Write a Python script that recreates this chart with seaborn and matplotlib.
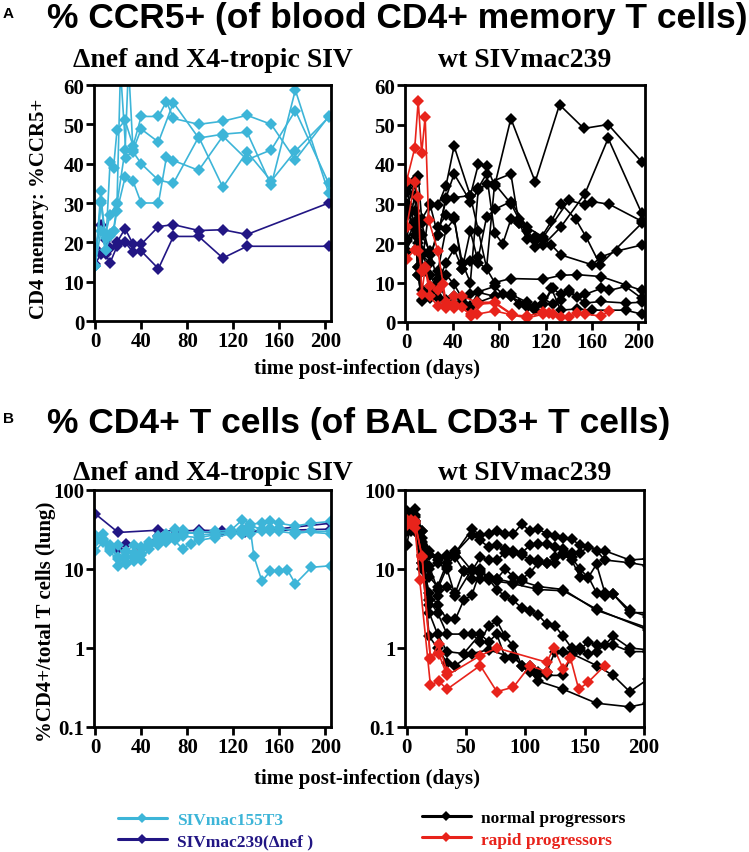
import matplotlib
matplotlib.use("Agg")
import matplotlib.pyplot as plt
import seaborn as sns
import pandas as pd
from matplotlib.lines import Line2D

# ---- panel A left: %CCR5+ (blood CD4 memory), delta-nef and X4-tropic SIV ----
a_cyan_days = [
    [0, 5, 9, 13, 16, 19, 26, 33, 40, 55, 62, 68, 90, 111, 132, 153, 174, 203],
    [0, 5, 9, 13, 19, 22, 27, 33, 40, 55, 68, 90, 111, 132, 153, 174, 203],
    [0, 5, 9, 13, 16, 19, 26, 33, 40, 55, 62, 68, 90, 111, 132, 153, 174, 203],
    [0, 5, 9, 13, 16, 19, 26, 29, 33, 40, 55, 68, 90, 111, 132, 153, 174, 203],
]
a_cyan_vals = [
    [14, 33, 18, 40.5, 39, 48.5, 51, 44.5, 52, 52, 55.8, 51.5, 50, 50.8, 52.3, 50, 41, 52],
    [14, 30.5, 22, 27, 30, 64, 41.5, 43.5, 48.8, 45.5, 55.5, 46.5, 47.5, 48, 34.5, 58.7, 32.5],
    [14, 30, 21, 22, 23, 28, 36.5, 35.5, 30, 30, 41.7, 40.8, 38.3, 47, 41, 43.5, 53.5, 35],
    [14, 23, 18, 21.5, 23, 29.8, 43.5, 65, 43, 40, 35.8, 35, 46.8, 34, 43, 35.6, 43.2, 51.8],
]
a_navy_days = [
    [0, 5, 9, 13, 19, 26, 33, 40, 55, 68, 90, 111, 132, 203],
    [0, 5, 9, 13, 19, 26, 33, 40, 55, 68, 90, 111, 132, 203],
]
a_navy_vals = [
    [18.5, 24.5, 20.5, 18.5, 20, 23.5, 19.5, 19.5, 24, 24.5, 23, 23.2, 22, 30],
    [14.5, 17, 17, 14.8, 19, 20, 17.5, 17.8, 13.3, 21.5, 21.5, 16, 19, 19],
]

# ---- panel A right: wt SIVmac239 ----
a_red_days = [
    [0, 7, 10, 13, 16, 19, 27, 34, 41, 48, 61, 76, 91],
    [0, 7, 10, 13, 16, 20, 27, 31, 34, 41, 48, 56, 61, 76, 91, 104, 118, 123, 133],
    [0, 7, 10, 13, 16, 20, 27, 34, 41, 56, 62, 76, 91, 104, 118, 126, 140, 147, 154, 168, 175],
]
a_red_vals = [
    [35.8, 44, 56, 42.7, 52, 25.8, 18, 5, 6.5, 6.5, 5, 5, 2],
    [24, 35.5, 31.7, 7.2, 13.5, 9.2, 8, 9.5, 3.5, 3.5, 3.8, 1.5, 2, 2.8, 1.8, 1.5, 2.5, 2.4, 1.3],
    [16, 18.3, 18, 13, 14, 6.5, 4, 4, 4.5, 2, 4.5, 4.8, 1.8, 1, 2, 2, 1.3, 2.2, 2, 1.5, 2.8],
]
a_black_days = [
    [0, 7, 10, 13, 20, 27, 34, 41, 55, 62, 69, 76, 90, 111, 132, 153, 174, 203],
    [0, 7, 10, 13, 20, 27, 34, 41, 55, 62, 69, 90, 97, 104, 111, 125, 133, 146, 155, 167, 203],
    [0, 7, 10, 13, 20, 27, 34, 41, 48, 55, 62, 69, 76, 83, 90, 97, 104, 111, 118, 133, 154, 174, 203],
    [0, 7, 10, 13, 20, 27, 34, 41, 48, 55, 62, 69, 76, 90, 104, 118, 140, 154, 160, 175, 203],
    [0, 7, 10, 13, 20, 27, 34, 41, 48, 55, 62, 69, 76, 90, 118, 133, 147, 168, 203],
    [0, 7, 10, 13, 20, 27, 34, 41, 48, 55, 62, 76, 90, 104, 118, 126, 133, 140, 147, 154, 168, 175, 189, 203],
    [0, 7, 10, 13, 20, 27, 34, 41, 48, 55, 62, 76, 90, 104, 111, 118, 126, 133, 140, 154, 168, 189, 203],
    [0, 7, 10, 13, 20, 27, 34, 41, 48, 55, 76, 83, 90, 97, 104, 111, 118, 125, 133, 147, 160, 189, 203],
    [0, 7, 10, 13, 20, 27, 34, 41, 55, 62, 69, 76, 90, 97, 111, 118, 125, 133, 160, 168, 182, 203],
]
a_black_vals = [
    [29, 35, 37, 26, 29.5, 29.5, 34.5, 44.5, 32, 40, 39.5, 34.5, 51.5, 35.5, 55, 49, 50, 40.5],
    [27, 28, 23, 25, 17, 22, 31.5, 37.5, 30.5, 33.5, 35, 37.5, 25, 23, 19, 25.5, 30, 26, 21.5, 14.5, 25],
    [34, 24, 12, 5.5, 6, 13, 23.5, 26, 15, 10, 34, 37.5, 22.5, 19.8, 26, 25, 21, 21.5, 19.5, 24, 32.5, 46.5, 27.5],
    [20.5, 25, 19, 17, 15, 24, 27, 26.5, 13.5, 15.5, 16.5, 26.5, 28.5, 30.5, 24, 21.5, 30.8, 29.7, 30.5, 29.8, 25.5],
    [18, 23.5, 14, 22, 18, 10, 15, 18.5, 13.5, 23, 15, 13.5, 10, 11, 10.8, 11.8, 12, 11.5, 8],
    [27.5, 25, 12, 5.3, 9, 6, 12, 9.5, 6, 4, 7.5, 6.5, 6.5, 4, 4.5, 8.5, 7, 7.5, 6.3, 7, 8.5, 8, 9, 6],
    [30, 22, 14, 8, 7.5, 11, 5.5, 6.5, 5, 3.5, 5, 6.5, 7, 5, 4, 6, 4.5, 5.5, 8, 4.8, 5.2, 4.8, 5],
    [33, 36, 26, 18, 12, 8, 5, 4.5, 5, 7, 9, 7, 6.5, 4.5, 3.8, 3, 4.5, 8.5, 3, 3.3, 3, 3, 2],
    [21, 32, 20, 14, 30, 22, 31, 31.5, 32, 23, 13.7, 35, 30, 26, 20.5, 21, 19.5, 17, 14.5, 16.5, 18, 19.5],
]

# ---- panel B left: %CD4+ of BAL CD3+ T cells, delta-nef and X4-tropic SIV ----
b_cyan_days = [
    [0, 7, 13, 20, 27, 34, 40, 47, 55, 62, 69, 76, 90, 104, 118, 128, 135, 145, 152, 160, 174, 188, 205],
    [0, 7, 13, 20, 27, 34, 40, 47, 55, 62, 69, 76, 90, 104, 118, 128, 135, 138, 145, 152, 160, 167, 174, 188, 205],
    [0, 7, 13, 20, 27, 34, 40, 47, 55, 62, 69, 76, 83, 90, 104, 118, 128, 135, 145, 152, 160, 174, 188, 205],
    [0, 7, 13, 20, 27, 34, 40, 47, 55, 62, 69, 76, 90, 104, 118, 128, 135, 145, 152, 160, 174, 205],
]
b_cyan_vals = [
    [27, 28, 20, 14, 11.5, 12.5, 13, 18, 22, 25, 27, 28, 29, 30, 31, 42, 37, 38, 40, 38, 35, 38, 40],
    [17, 22, 18, 11, 14, 16, 15, 22, 25, 28, 32, 31, 27, 28, 30, 32, 31, 14.5, 7, 9.3, 9.5, 9.8, 6.5, 10.5, 11],
    [22, 24, 19, 13.5, 17, 20, 16, 20, 20, 22, 23, 18, 21, 23, 25, 28, 30, 35, 32, 30, 30, 28, 30, 30],
    [25, 23, 17, 20, 12, 14, 19, 21, 26, 23, 24, 26, 25, 27, 29, 28, 28, 30, 33, 33, 30, 28],
]
b_navy_days = [
    [0, 20, 55, 70, 90, 130, 205],
    [0, 20, 27, 40, 55, 70, 90, 110, 130, 205],
]
b_navy_vals = [
    [50, 29, 31, 30, 31, 30, 32],
    [24, 18, 21, 18.5, 26, 28, 29, 30, 29, 38],
]

# ---- panel B right: wt SIVmac239 ----
b_red_days = [
    [0, 4, 7, 13, 20, 27, 34, 62, 76, 118, 124, 132, 138, 145, 153, 167],
    [0, 4, 7, 11, 20, 27, 34, 62, 76, 90, 104, 118],
    [0, 4, 7, 13, 20, 27, 34],
]
b_red_vals = [
    [40, 42, 38, 14.5, 0.75, 0.85, 0.45, 0.8, 1.0, 0.66, 1.0, 0.54, 0.75, 0.3, 0.37, 0.6],
    [36, 38, 33, 7.3, 0.34, 0.38, 0.3, 0.6, 0.28, 0.32, 0.6, 0.5],
    [42, 37, 40, 14, 0.72, 1.13, 0.5],
]
b_black_days = [
    [0, 4, 7, 13, 19, 26, 34, 41, 55, 62, 69, 76, 83, 90, 97, 104, 111, 118, 125, 132, 139, 146, 167, 188, 203],
    [0, 4, 7, 13, 19, 26, 34, 41, 55, 62, 69, 76, 83, 90, 97, 104, 111, 118, 125, 132, 139, 146, 153, 160, 167, 188, 203],
    [0, 4, 7, 13, 19, 26, 34, 41, 48, 55, 62, 69, 76, 83, 90, 97, 104, 111, 118, 125, 132, 139, 146, 153, 160, 167, 174, 188, 203],
    [0, 4, 7, 13, 19, 26, 34, 41, 48, 55, 62, 69, 76, 90, 97, 104, 111, 118, 125, 132, 139, 146, 153, 160, 167, 174, 188, 203],
    [0, 4, 7, 13, 19, 26, 34, 41, 48, 55, 62, 69, 76, 90, 111, 132, 160, 203],
    [0, 4, 7, 13, 19, 26, 34, 41, 55, 62, 69, 76, 83, 90, 97, 104, 111, 118, 125, 132, 139, 146, 153, 160, 167, 174, 188, 203],
    [0, 4, 7, 13, 19, 26, 34, 48, 55, 62, 69, 76, 83, 90, 97, 104, 111, 118, 125, 132, 139, 146, 153, 160, 174, 188, 203],
    [0, 4, 7, 13, 19, 26, 34, 48, 62, 69, 76, 83, 90, 97, 104, 111, 118, 132, 139, 160, 174, 188, 203],
    [0, 4, 7, 13, 19, 26, 34, 41, 55, 69, 90, 104, 111, 132, 160, 188, 203],
    [0, 7, 13, 19, 26, 34, 41, 55, 62, 69, 76, 83, 90, 97, 111, 132, 160, 203],
]
b_black_vals = [
    [55, 50, 58, 30, 17, 14, 15, 16, 32, 27, 28, 30, 28, 28, 37, 30, 32, 28, 26, 25, 24, 20, 17, 13, 13.5],
    [50, 45, 40, 20, 11, 5.5, 10.5, 16, 27, 23, 19, 20, 18, 17, 16, 20, 21, 21, 19, 18, 16, 16, 19, 17, 13, 12, 11],
    [45, 35, 45, 25, 8, 6, 12, 14, 9.5, 9.5, 14, 13, 13, 16, 16, 15, 13, 13, 12, 14, 15, 13, 8, 8, 5, 4.5, 4.8, 3, 2.5],
    [35, 30, 35, 12, 5, 3.5, 2.3, 2.3, 4, 4.7, 9.5, 7.5, 7.5, 6.7, 7.5, 9, 12, 12, 12, 16, 14, 10, 7.8, 11.5, 5, 4.8, 2.8, 2.8],
    [30, 35, 30, 10, 3.5, 4.5, 6, 5, 9.5, 7.5, 7.5, 7.3, 7, 6.5, 5.5, 5.3, 3.1, 1.7],
    [20, 40, 35, 15, 10, 12, 10, 4.5, 10, 10, 7.5, 5.5, 4.5, 4, 3.2, 2.9, 2.6, 2, 1.9, 1.4, 1, 1, 0.85, 0.9, 1.1, 1.4, 1, 0.95],
    [50, 45, 40, 22, 4, 2.8, 1.5, 1.5, 1.5, 1.2, 1.9, 2.2, 1.4, 1.05, 0.6, 0.55, 0.5, 0.5, 0.9, 0.9, 0.85, 0.95, 1.2, 1.1, 1.1, 0.9, 0.9],
    [40, 35, 38, 18, 2.8, 1.5, 0.9, 0.85, 1.5, 1.2, 1.5, 0.75, 0.8, 0.6, 0.6, 0.45, 0.45, 0.45, 0.85, 0.6, 0.45, 0.28, 0.4],
    [32, 33, 30, 12, 1.4, 1, 0.65, 0.6, 0.85, 0.95, 0.75, 0.5, 0.38, 0.3, 0.2, 0.18, 0.2],
    [45, 48, 30, 15, 13, 14, 17, 9.5, 9, 8, 7.5, 10, 8, 7, 6, 5.5, 3, 1.8],
]

CYAN = "#3db5d8"
NAVY = "#221684"
RED = "#e8231b"
BLACK = "#000000"

sns.set_theme(style="ticks")
plt.rcParams["font.family"] = ["Liberation Serif", "DejaVu Serif"]
plt.rcParams["font.weight"] = "bold"
for k in ["text.color", "axes.labelcolor", "xtick.color", "ytick.color", "axes.edgecolor"]:
    plt.rcParams[k] = "black"

W, H = 749, 853
fig = plt.figure(figsize=(W / 100, H / 100), dpi=100)


def px_axes(l, t, r, b):
    return fig.add_axes([l / W, 1 - b / H, (r - l) / W, (b - t) / H])


def to_long(days_list, vals_list, group):
    rows = []
    for i, (d, v) in enumerate(zip(days_list, vals_list)):
        rows.append(pd.DataFrame({"day": d, "value": v, "group": group, "animal": f"{group}{i}"}))
    return rows


def draw(ax, frames, palette, order):
    df = pd.concat(frames, ignore_index=True)
    sns.lineplot(data=df, x="day", y="value", hue="group", hue_order=order,
                 units="animal", estimator=None, palette=palette, marker="D",
                 markersize=6, markeredgewidth=0, linewidth=1.2,
                 legend=False, ax=ax)


def style(ax, xlim, xticks, ylim, yticks, ylabels=None, log=False):
    if log:
        ax.set_yscale("log")
    ax.set_xlim(*xlim)
    ax.set_ylim(*ylim)
    ax.set_xticks(xticks)
    ax.set_yticks(yticks)
    if ylabels is not None:
        ax.set_yticklabels(ylabels)
    ax.minorticks_off()
    ax.set_xlabel("")
    ax.set_ylabel("")
    for s in ax.spines.values():
        s.set_visible(True)
        s.set_linewidth(2)
        s.set_color("black")
    ax.tick_params(axis="both", which="major", length=6, width=2, pad=1,
                   labelsize=15, colors="black", direction="out")
    for lab in ax.get_xticklabels() + ax.get_yticklabels():
        lab.set_fontweight("bold")


axA1 = px_axes(94, 86, 331, 322)
axA2 = px_axes(405, 86, 645, 323)
axB1 = px_axes(94, 491, 331, 728)
axB2 = px_axes(405, 491, 644, 728)

draw(axA1, to_long(a_navy_days, a_navy_vals, "navy") + to_long(a_cyan_days, a_cyan_vals, "cyan"),
     {"cyan": CYAN, "navy": NAVY}, ["navy", "cyan"])
draw(axA2, to_long(a_black_days, a_black_vals, "normal") + to_long(a_red_days, a_red_vals, "rapid"),
     {"normal": BLACK, "rapid": RED}, ["normal", "rapid"])
draw(axB1, to_long(b_navy_days, b_navy_vals, "navy") + to_long(b_cyan_days, b_cyan_vals, "cyan"),
     {"cyan": CYAN, "navy": NAVY}, ["navy", "cyan"])
draw(axB2, to_long(b_black_days, b_black_vals, "normal") + to_long(b_red_days, b_red_vals, "rapid"),
     {"normal": BLACK, "rapid": RED}, ["normal", "rapid"])

ticks40 = [0, 40, 80, 120, 160, 200]
style(axA1, (-1, 205), ticks40, (0, 60), range(0, 61, 10))
style(axA2, (-1.4, 205.8), ticks40, (0, 60), range(0, 61, 10))
logt = [0.1, 1, 10, 100]
logl = ["0.1", "1", "10", "100"]
style(axB1, (-1, 205), ticks40, (0.1, 100), logt, logl, log=True)
style(axB2, (-1.4, 200), [0, 50, 100, 150, 200], (0.1, 100), logt, logl, log=True)

axA1.set_ylabel("CD4 memory: %CCR5+", fontsize=15, fontweight="bold")
axA1.yaxis.set_label_coords(-0.19, 0.48)
axB1.set_ylabel("%CD4+/total T cells (lung)", fontsize=15, fontweight="bold")
axB1.yaxis.set_label_coords(-0.16, 0.45)


def ftext(x, y, s, **kw):
    fig.text(x / W, 1 - y / H, s, **kw)


sans = ["Liberation Sans", "DejaVu Sans"]
ftext(3, 18, "A", family=sans, fontsize=11, fontweight="bold", va="baseline")
ftext(47, 28, "% CCR5+ (of blood CD4+ memory T cells)", family=sans, fontsize=25.5,
      fontweight="bold", va="baseline")
ftext(3, 423, "B", family=sans, fontsize=11, fontweight="bold", va="baseline")
ftext(47, 433, "% CD4+ T cells (of BAL CD3+ T cells)", family=sans, fontsize=25.5,
      fontweight="bold", va="baseline")

for y, pair in [(67, (axA1, axA2)), (480, (axB1, axB2))]:
    for ax, s in zip(pair, ["\u0394nef and X4-tropic SIV", "wt SIVmac239"]):
        pos = ax.get_position()
        ftext((pos.x0 + pos.x1) / 2 * W, y, s, fontsize=20, fontweight="bold",
              ha="center", va="baseline")

ftext(367, 374, "time post-infection (days)", fontsize=15, fontweight="bold",
      ha="center", va="baseline")
ftext(367, 784, "time post-infection (days)", fontsize=15, fontweight="bold",
      ha="center", va="baseline")


def handle(c):
    return Line2D([], [], color=c, lw=2.2, marker="D", markersize=5, markeredgewidth=0)


leg_kw = dict(loc="upper left", frameon=False, handlelength=2.8,
              handletextpad=0.6, labelspacing=0.3, borderpad=0, borderaxespad=0,
              labelcolor="linecolor", prop={"weight": "bold", "size": 12.5})
fig.legend([handle(CYAN), handle(NAVY)], ["SIVmac155T3", "SIVmac239(\u0394nef )"],
           bbox_to_anchor=(118 / W, 1 - 813 / H), **leg_kw)
fig.legend([handle(BLACK), handle(RED)], ["normal progressors", "rapid progressors"],
           bbox_to_anchor=(422 / W, 1 - 811 / H), **leg_kw)

fig.savefig("out.png", dpi=100)
